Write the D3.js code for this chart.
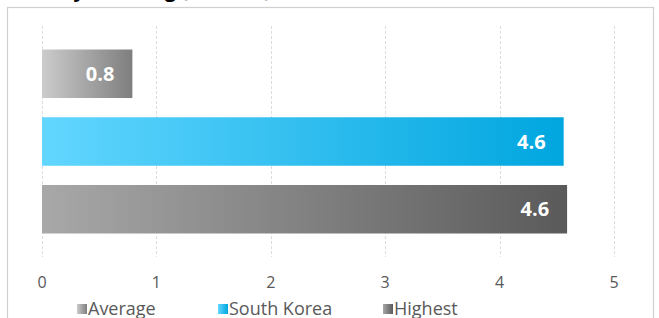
<!DOCTYPE html>
<html lang="en">
<head>
<meta charset="utf-8"/>
<style>
body { margin: 0; background: #fff; }
svg { display: block; font-family: "Open Sans", sans-serif; }
</style>
</head>
<body>
<svg width="659" height="318"></svg>
<script src="https://d3js.org/d3.v7.min.js"></script>
<script>

// data
var categories = ["Average", "South Korea", "Highest"];
var values = [0.79, 4.56, 4.59];
var labels = ["0.8", "4.6", "4.6"];
var ticks = [0, 1, 2, 3, 4, 5];
var colorsFrom = ["#cccccc", "#62d6ff", "#a8a8a8"];
var colorsTo = ["#7e7e7e", "#00a6df", "#5a5a5a"];

var svg = d3.select("svg");

var x = d3.scaleLinear().domain([0, 5]).range([42, 614]);
var y = d3.scaleBand().domain(categories).range([26, 257])
    .paddingInner(0.284).paddingOuter(0.347);

// gradients, one per category
var defs = svg.append("defs");
categories.forEach(function(c, i) {
  var gr = defs.append("linearGradient")
    .attr("id", "grad" + i)
    .attr("x1", "0%").attr("x2", "100%").attr("y1", "0%").attr("y2", "0%");
  gr.append("stop").attr("offset", "0%").attr("stop-color", colorsFrom[i]);
  gr.append("stop").attr("offset", "100%").attr("stop-color", colorsTo[i]);
});

// title, mostly cut off at the top
svg.append("text")
  .attr("x", 12)
  .attr("y", -3)
  .attr("font-size", 20)
  .attr("font-weight", "bold")
  .attr("fill", "#000")
  .text("Weekly Drinking (in litres)");

// chart border
svg.append("rect")
  .attr("x", 7.5).attr("y", 7.5)
  .attr("width", 646).attr("height", 330)
  .attr("fill", "none")
  .attr("stroke", "#d0d0d0")
  .attr("stroke-width", 1.2);

// gridlines
svg.append("g")
  .selectAll("line")
  .data(ticks)
  .enter().append("line")
  .attr("x1", function(d) { return Math.round(x(d)) + 0.5; })
  .attr("x2", function(d) { return Math.round(x(d)) + 0.5; })
  .attr("y1", 26).attr("y2", 257)
  .attr("stroke", "#dcdcdc")
  .attr("stroke-dasharray", "3,2");

// bars
var bars = svg.append("g")
  .selectAll("g")
  .data(categories)
  .enter().append("g");

bars.append("rect")
  .attr("x", x(0))
  .attr("y", function(d) { return y(d); })
  .attr("width", function(d, i) { return x(values[i]) - x(0); })
  .attr("height", y.bandwidth())
  .attr("fill", function(d, i) { return "url(#grad" + i + ")"; });

bars.append("text")
  .attr("x", function(d, i) { return x(values[i]) - 18; })
  .attr("y", function(d) { return y(d) + y.bandwidth() / 2; })
  .attr("dy", "0.36em")
  .attr("text-anchor", "end")
  .attr("font-size", 20)
  .attr("font-weight", "bold")
  .attr("fill", "#fff")
  .text(function(d, i) { return labels[i]; });

// x axis labels
svg.append("g")
  .selectAll("text")
  .data(ticks)
  .enter().append("text")
  .attr("x", function(d) { return x(d); })
  .attr("y", 288)
  .attr("text-anchor", "middle")
  .attr("font-size", 16)
  .attr("fill", "#595959")
  .text(function(d) { return d; });

// legend
var legendX = [77, 218, 383];
var legend = svg.append("g")
  .selectAll("g")
  .data(categories)
  .enter().append("g")
  .attr("transform", function(d, i) { return "translate(" + legendX[i] + ",304)"; });

legend.append("rect")
  .attr("width", 10).attr("height", 10)
  .attr("fill", function(d, i) { return "url(#grad" + i + ")"; });

legend.append("text")
  .attr("x", 11)
  .attr("y", 11)
  .attr("font-size", 18)
  .attr("fill", "#595959")
  .text(function(d) { return d; });

</script>
</body>
</html>
